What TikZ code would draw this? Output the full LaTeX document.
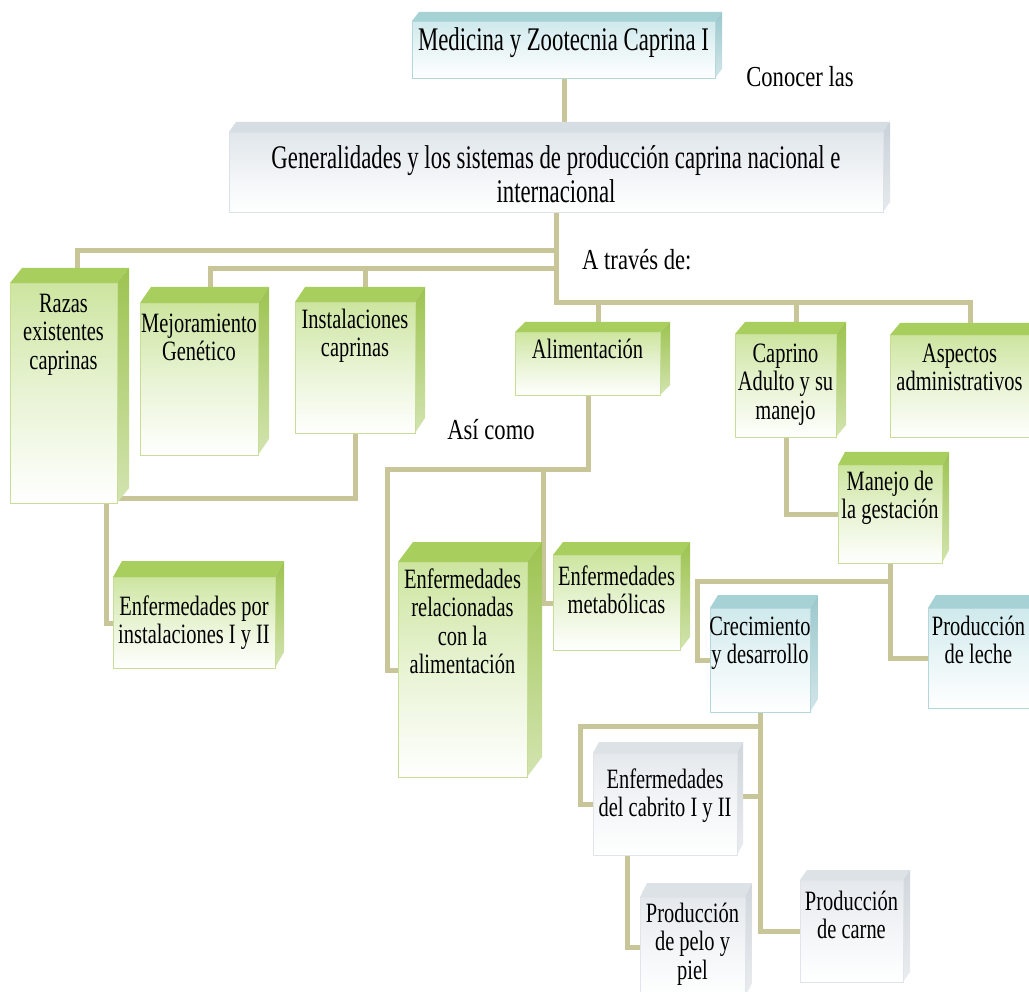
\documentclass[tikz,border=0pt]{standalone}
\usepackage{fontspec}
\setmainfont{Liberation Serif}[FakeStretch=0.73]
\newfontfamily\bigserif{Liberation Serif}[FakeStretch=0.69]
\newfontfamily\labserif{Liberation Serif}[FakeStretch=0.78]
\usetikzlibrary{backgrounds,calc}

% palettes: top face, side face, front face (upper tint), front border
\definecolor{greentop}{HTML}{A8CF5E}
\definecolor{greenside}{HTML}{9DC350}
\definecolor{greenfront}{HTML}{CDE5A0}
\definecolor{greenedge}{HTML}{C6DE96}
\definecolor{bluetop}{HTML}{A6D2D6}
\definecolor{blueside}{HTML}{9AC8CD}
\definecolor{bluefront}{HTML}{CFE9EC}
\definecolor{blueedge}{HTML}{B5D7DB}
\definecolor{graytop}{HTML}{DDE2E7}
\definecolor{grayside}{HTML}{D0D6DC}
\definecolor{grayfront}{HTML}{E5E9ED}
\definecolor{grayedge}{HTML}{E1E5EA}
\definecolor{gentop}{HTML}{D6DDE3}
\definecolor{genside}{HTML}{C9D1D8}
\definecolor{genfront}{HTML}{E0E6EB}
\definecolor{genedge}{HTML}{DCE2E7}
\definecolor{linkcol}{HTML}{C8C699}

% 3D box: name, palette, x1, y1, x2, y2 (front face), dx, dy (depth)
\newcommand\cubebox[8]{%
  \fill[#2top] (#3,#4) -- ++(#7,-#8) -- (#5+#7,#4-#8) -- (#5,#4) -- cycle;
  \shade[top color=#2side, bottom color=#2side!45!white]
    (#5,#4) -- (#5+#7,#4-#8) -- (#5+#7,#6-#8) -- (#5,#6) -- cycle;
  \node[draw=#2edge, line width=1pt, top color=#2front, bottom color=white,
        middle color=#2front!45!white, anchor=north west, inner sep=0pt,
        minimum width=#5pt-#3pt, minimum height=#6pt-#4pt] (#1) at (#3,#4) {};
}

\begin{document}
\begin{tikzpicture}[x=1pt, y=-1pt,
  conn/.style={draw=linkcol, line width=5pt},
  txt/.style={align=center, inner sep=0pt, anchor=north,
    font=\fontsize{28}{28.5}\selectfont},
  bigtxt/.style={align=center, inner sep=0pt, anchor=north,
    font=\bigserif\fontsize{33}{32}\selectfont},
  lab/.style={inner sep=0pt, font=\labserif\fontsize{29}{30}\selectfont}]

\useasboundingbox (0,0) rectangle (1029,992);

% boxes
\cubebox{med}{blue}{412}{21}{715}{78}{7}{9}
\cubebox{gen}{gen}{229}{132}{883}{212}{7}{10}
\cubebox{razas}{green}{10}{283}{117}{503}{12}{15}
\cubebox{mejor}{green}{140}{303}{258}{455}{11}{16}
\cubebox{instal}{green}{295}{302}{415}{433}{10}{15}
\cubebox{alim}{green}{515}{332}{660}{395}{10}{10}
\cubebox{caprino}{green}{735}{334}{836}{437}{10}{12}
\cubebox{aspect}{green}{890}{335}{1029}{437}{10}{12}
\cubebox{manejo}{green}{838}{465}{942}{563}{7}{13}
\cubebox{enfinst}{green}{113}{577}{275}{668}{9}{16}
\cubebox{enfrel}{green}{398}{562}{527}{777}{15}{20}
\cubebox{enfmet}{green}{553}{555}{680}{650}{10}{13}
\cubebox{crec}{blue}{710}{608}{810}{712}{8}{13}
\cubebox{leche}{blue}{928}{608}{1029}{708}{8}{13}
\cubebox{cabrito}{gray}{593}{753}{737}{855}{6}{11}
\cubebox{pelo}{gray}{640}{897}{745}{997}{7}{14}
\cubebox{carne}{gray}{800}{880}{903}{982}{7}{10}

% box texts
\node[bigtxt] (med-t) at (563.5,27.6) {\strut Medicina y Zootecnia Caprina I};
\node[bigtxt] (gen-t) at (556,145.6) {\strut Generalidades y los sistemas de producción caprina nacional e\\internacional};
\node[txt] (razas-t) at (63.5,292) {\strut Razas\\existentes\\caprinas};
\node[txt] (mejor-t) at (199,312) {\strut Mejoramiento\\Genético};
\node[txt] (instal-t) at (355,308) {\strut Instalaciones\\caprinas};
\node[txt] (alim-t) at (587.5,338) {\strut Alimentación};
\node[txt] (caprino-t) at (785.5,342) {\strut Caprino\\Adulto y su\\manejo};
\node[txt] (aspect-t) at (959.5,342) {\strut Aspectos\\administrativos};
\node[txt] (manejo-t) at (890,470) {\strut Manejo de\\la gestación};
\node[txt] (enfinst-t) at (194,595) {\strut Enfermedades por\\instalaciones I y II};
\node[txt] (enfrel-t) at (462.5,568) {\strut Enfermedades\\relacionadas\\con la\\alimentación};
\node[txt] (enfmet-t) at (616.5,565) {\strut Enfermedades\\metabólicas};
\node[txt] (crec-t) at (760,615) {\strut Crecimiento\\y desarrollo};
\node[txt] (leche-t) at (978.5,615) {\strut Producción\\de leche};
\node[txt] (cabrito-t) at (665,768) {\strut Enfermedades\\del cabrito I y II};
\node[txt] (pelo-t) at (692.5,902) {\strut Producción\\de pelo y\\piel};
\node[txt] (carne-t) at (851.5,890) {\strut Producción\\de carne};

% linking words
\node[lab, anchor=base] (conocer) at (800,87) {Conocer las};
\node[lab, anchor=base west] (atraves) at (582,270) {A través de:};
\node[lab, anchor=base] (asicomo) at (491,440) {Así como};

% connectors, kept behind the boxes
\begin{pgfonlayer}{background}
\fill[white] (0,0) rectangle (1029,992);
\draw[conn] (med.south) -- (med.south |- gen.north);
% main bus
\draw[conn] (gen.south) -- ++(0,90) coordinate (bus) -| ([xshift=10pt]aspect.north);
\coordinate (alimtop) at ([xshift=10pt]alim.north);
\coordinate (caprtop) at ([xshift=10pt]caprino.north);
\draw[conn] (alimtop) -- (alimtop |- bus);
\draw[conn] (caprtop) -- (caprtop |- bus);
% left branches
\draw[conn] (gen.south) ++(0,38) coordinate (b1) -| ([xshift=13pt]razas.north);
\draw[conn] (gen.south) ++(0,56) coordinate (b2) -| ([xshift=11pt]mejor.north);
\coordinate (insttop) at ([xshift=10pt]instal.north);
\draw[conn] (insttop) -- (insttop |- b2);
\draw[conn] (instal.south) |- ([yshift=6pt]razas.south east);
\draw[conn] ([xshift=-12pt]razas.south east) |- (enfinst.west);
% feeding
\draw[conn] (alim.south) -- ++(0,73) coordinate (b3) -| ([xshift=-11pt]enfrel.west) -- (enfrel.west);
\coordinate (m1) at ([xshift=-10pt]enfmet.west);
\draw[conn] (m1 |- b3) -- (m1) -- (enfmet.west);
% adult goat
\draw[conn] (caprino.south) |- (manejo.west);
\draw[conn] (manejo.south) |- (leche.west);
\draw[conn] ([yshift=-17pt]manejo.south) -| ([xshift=-13pt]crec.west) -- (crec.west);
% growth
\draw[conn] (crec.south) -- ++(0,13) coordinate (b4) -| ([xshift=-13pt]cabrito.west) -- (cabrito.west);
\draw[conn] (crec.south) |- (carne.west);
\coordinate (k1) at ([yshift=8pt]cabrito.east);
\draw[conn] (k1) -- (k1 -| crec.south);
\draw[conn] ([xshift=34pt]cabrito.south west) |- (pelo.west);
\end{pgfonlayer}
\end{tikzpicture}
\end{document}
